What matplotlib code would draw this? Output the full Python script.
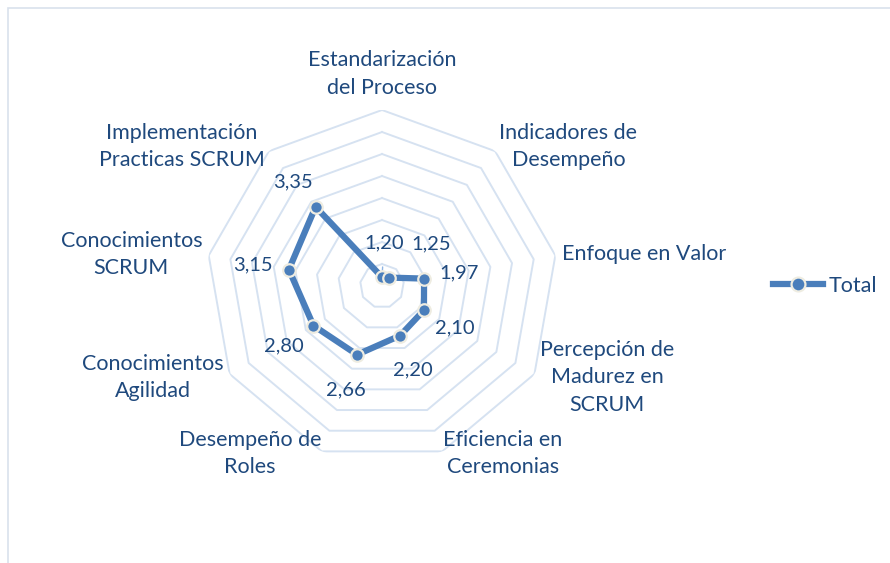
import numpy as np
import matplotlib.pyplot as plt
from matplotlib.lines import Line2D
from matplotlib.patches import Rectangle

# datos del gráfico radar
categorias = ["Estandarización\ndel Proceso", "Indicadores de\nDesempeño", "Enfoque en Valor",
              "Percepción de\nMadurez en\nSCRUM", "Eficiencia en\nCeremonias", "Desempeño de\nRoles",
              "Conocimientos\nAgilidad", "Conocimientos\nSCRUM", "Implementación\nPracticas SCRUM"]
valores = [1.20, 1.25, 1.97, 2.10, 2.20, 2.66, 2.80, 3.15, 3.35]
etiquetas = ["1,20", "1,25", "1,97", "2,10", "2,20", "2,66", "2,80", "3,15", "3,35"]
anillos = np.arange(1.5, 5.01, 0.5)

# desplazamiento de las etiquetas de datos (pixeles)
off_datos = [(2, 34), (42, 34), (35, 6), (31, -18), (13, -34), (-11, -35), (-30, -20), (-36, 5), (-23, 25)]

plt.rcParams['font.family'] = ['Lato', 'DejaVu Sans']
txt = '#1F497D'
azul = '#4A7EBB'
grid = '#D6E2F1'
fs = 15.5

fig = plt.figure(figsize=(8.9, 5.63), dpi=100)
ax = fig.add_axes([0.2315, 0.1794, 0.3955, 0.6252], projection='polar')
ax.set_theta_zero_location('N')
ax.set_theta_direction(-1)
ax.set_ylim(1, 5)
ax.set_xticks([])
ax.set_yticks([])
ax.grid(False)
ax.spines['polar'].set_visible(False)
ax.patch.set_alpha(0)

n = len(categorias)
ang = np.linspace(0, 2 * np.pi, n, endpoint=False)
ang_c = np.append(ang, ang[0])

# anillos poligonales
for r in anillos:
    ax.plot(ang_c, [r] * (n + 1), color=grid, lw=1.4, zorder=1)

v_c = valores + [valores[0]]
ax.plot(ang_c, v_c, color=azul, lw=4.5, zorder=3, solid_joinstyle='miter')
ax.plot(ang, valores, 'o', ms=9, mfc=azul, mec='#EEECE1', mew=1.6, zorder=4)

# etiquetas de datos
for i, (a, v) in enumerate(zip(ang, valores)):
    if i == 0:
        ax.annotate(etiquetas[i], (a, v), xytext=off_datos[i], textcoords='offset pixels',
                    ha='center', va='center', fontsize=14.5, color=txt,
                    arrowprops=dict(arrowstyle='-', color='#8EB4E3', lw=1, shrinkA=9, shrinkB=0))
    else:
        ax.annotate(etiquetas[i], (a, v), xytext=off_datos[i], textcoords='offset pixels',
                    ha='center', va='center', fontsize=14.5, color=txt)

# etiquetas de categorías
for i, (a, c) in enumerate(zip(ang, categorias)):
    deg = np.degrees(a)
    if i == 0:
        ax.text(a, 5.28, c, ha='center', va='bottom', fontsize=fs, color=txt,
                multialignment='center', linespacing=1.45)
    elif deg < 180:
        r = 5.05 if i == 4 else 5.15
        ax.text(a, r, c, ha='left', va='center', fontsize=fs, color=txt,
                multialignment='center', linespacing=1.45)
    else:
        r = 5.05 if i == 5 else 5.15
        ax.text(a, r, c, ha='right', va='center', fontsize=fs, color=txt,
                multialignment='center', linespacing=1.45)

# leyenda
h = Line2D([], [], color=azul, lw=4.5, marker='o', ms=10, mfc=azul, mec='#EEECE1', mew=1.6)
fig.legend([h], ['Total'], loc='center left', bbox_to_anchor=(754 / 890, 1 - 286 / 563),
           frameon=False, fontsize=fs, labelcolor=txt, handlelength=2.3, handletextpad=0.25)

# marco del gráfico
fig.patches.append(Rectangle((8 / 890, -0.05), 1.1, 1 - 8 / 563 + 0.05, transform=fig.transFigure,
                             fill=False, ec='#D9E1EC', lw=1.2))

fig.savefig('out.png', dpi=100)
